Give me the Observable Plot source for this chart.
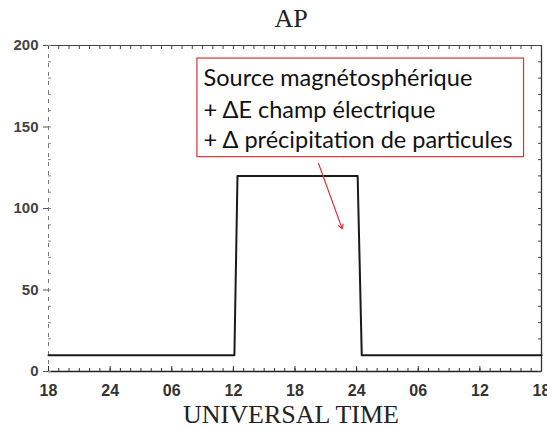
<!DOCTYPE html>
<html>
<head>
<meta charset="utf-8">
<script src="https://cdn.jsdelivr.net/npm/d3@7"></script>
<script src="https://cdn.jsdelivr.net/npm/@observablehq/plot@0.6"></script>
<style>
  html, body { margin: 0; padding: 0; background: #fff; }
  #chart svg { display: block; }
</style>
</head>
<body>
<div id="chart"></div>
<script>
// Step series: hours since 18 UT of day 1, AP index
const hours = [0, 18.1, 18.4, 30.1, 30.5, 48];
const apValues = [10, 10, 120, 120, 10, 10];

// Axis ticks and labels
const majorHours = [0, 6, 12, 18, 24, 30, 36, 42, 48];
const xLabels = ["18", "24", "06", "12", "18", "24", "06", "12", "18"];
const minorHours = d3.range(0, 49, 1);
const yTicks = [0, 50, 100, 150, 200];
const yMinor = d3.range(0, 201, 10);

// Annotation (in data units: hours, AP)
const noteLines = ["Source magnétosphérique", "+ ΔE champ électrique", "+ Δ précipitation de particules"];
const noteLineY = [180, 160.3, 141.8];
const noteBox = [{x1: 14.5, x2: 46.3, y1: 131.5, y2: 192}];
const noteArrow = [{x1: 26.3, y1: 127.5, x2: 28.6, y2: 87.5}];

const data = hours.map((h, i) => ({h, ap: apValues[i]}));

const chart = Plot.plot({
  width: 547,
  height: 430,
  marginLeft: 48,
  marginRight: 6,
  marginTop: 45,
  marginBottom: 59,
  style: {background: "#fff", color: "#222"},
  x: {domain: [0, 48], axis: null},
  y: {domain: [0, 200], axis: null},
  marks: [
    // frame
    Plot.ruleY([0], {stroke: "#222", strokeWidth: 1.5}),
    Plot.ruleY([200], {stroke: "#444", strokeWidth: 1}),
    Plot.ruleX([48], {stroke: "#333", strokeWidth: 1.3}),
    Plot.ruleX([0], {stroke: "#777", strokeWidth: 1, strokeDasharray: "4,5"}),
    // bottom minor ticks (inward)
    Plot.axisX({ticks: minorHours, anchor: "bottom", tickSize: -3, tickFormat: () => "", stroke: "#333"}),
    Plot.axisX({ticks: majorHours, anchor: "bottom", tickSize: -5, tickPadding: 18,
      tickFormat: d => xLabels[majorHours.indexOf(d)],
      fontSize: 16, fontWeight: "bold", fontFamily: "Liberation Sans, Arial, sans-serif", fill: "#333", stroke: "#333"}),
    // top ticks (inward)
    Plot.axisX({ticks: minorHours, anchor: "top", tickSize: -3, tickFormat: () => "", stroke: "#444"}),
    // right ticks (inward)
    Plot.axisY({ticks: yMinor, anchor: "right", tickSize: -4, tickFormat: () => "", stroke: "#444"}),
    // left minor ticks
    Plot.axisY({ticks: yMinor, anchor: "left", tickSize: -3, tickFormat: () => "", stroke: "#888"}),
    // left labels
    Plot.axisY({ticks: yTicks, anchor: "left", tickSize: 5, tickPadding: 5,
      fontSize: 15, fontWeight: "bold", fontFamily: "Liberation Sans, Arial, sans-serif", fill: "#444", stroke: "#555"}),
    // data step line
    Plot.line(data, {x: "h", y: "ap", stroke: "#1a1a1a", strokeWidth: 2}),
    // title and x label
    Plot.text(["AP"], {frameAnchor: "top", dx: -4, dy: -37, fontSize: 26, fontFamily: "Liberation Serif, serif", fill: "#222"}),
    Plot.text(["UNIVERSAL TIME"], {frameAnchor: "bottom", dx: -4, dy: 51, fontSize: 26, fontFamily: "Liberation Serif, serif", fill: "#222"}),
    // annotation
    Plot.rect(noteBox, {x1: "x1", x2: "x2", y1: "y1", y2: "y2", fill: "#fff", stroke: "#d9343a", strokeWidth: 1.2}),
    Plot.text(noteLines, {x: 15.1, y: (d, i) => noteLineY[i], text: d => d, textAnchor: "start",
      fontSize: 23.5, fontFamily: "Lato, 'Open Sans', sans-serif", fill: "#111"}),
    Plot.arrow(noteArrow, {x1: "x1", y1: "y1", x2: "x2", y2: "y2", stroke: "#d9343a", strokeWidth: 1.2, headLength: 6, bend: 0})
  ]
});
document.getElementById("chart").appendChild(chart);
</script>
</body>
</html>
